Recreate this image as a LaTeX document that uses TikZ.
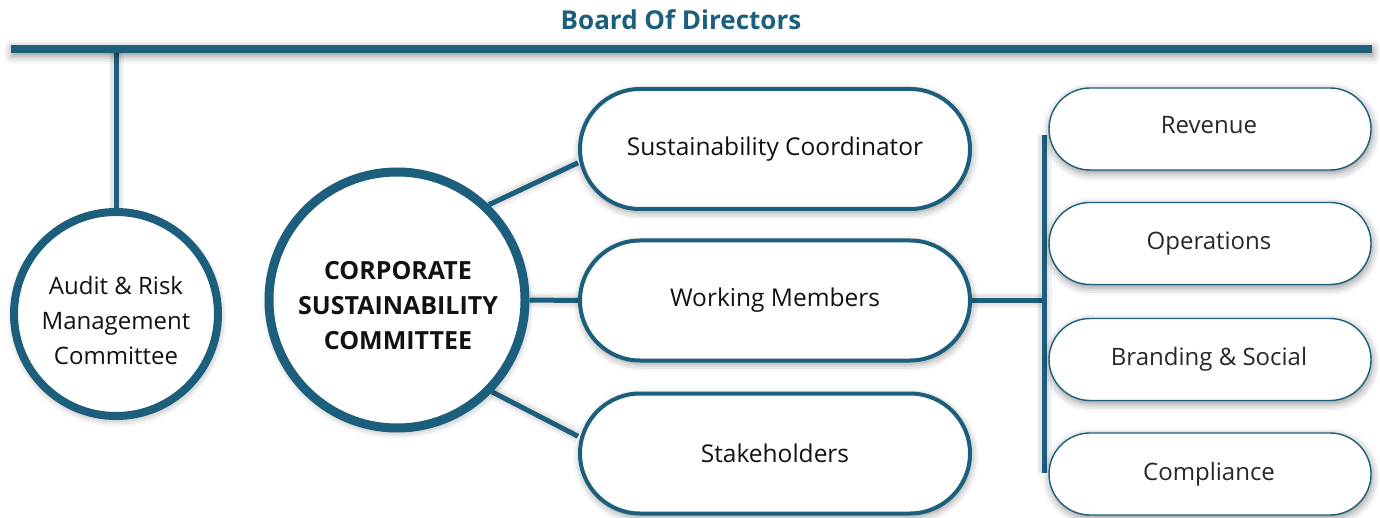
\documentclass[tikz,border=0pt]{standalone}
\usepackage{fontspec}
\setmainfont{Open Sans}
\usetikzlibrary{shadows.blur,backgrounds}
\definecolor{deepteal}{RGB}{28,95,124}
\definecolor{inkblack}{RGB}{18,18,18}
\definecolor{softink}{RGB}{40,40,40}

\begin{document}
\begin{tikzpicture}[x=1pt,y=-1pt,
  softshadow/.style={blur shadow={shadow xshift=1pt,shadow yshift=-3pt,shadow blur radius=8pt,shadow opacity=45}},
  ring/.style={circle,draw=deepteal,fill=white,softshadow,inner sep=0pt},
  ringtext/.style={align=center,inner sep=0pt,text=inkblack},
  pill/.style={rectangle,rounded corners=60pt,draw=deepteal,line width=4pt,fill=white,
    minimum width=390pt,minimum height=120pt,softshadow,text=inkblack,
    font=\fontsize{24.5}{28}\selectfont},
  tag/.style={rectangle,rounded corners=41pt,draw=deepteal,line width=1.4pt,fill=white,
    minimum width=322pt,minimum height=82pt,softshadow,text=softink,
    font=\fontsize{24}{28}\selectfont},
  tagtext/.style={text=softink,font=\fontsize{24}{28}\selectfont,inner sep=0pt,anchor=base},
  link/.style={draw=deepteal,line width=5pt,
    preaction={draw=black,draw opacity=.05,line width=15pt},
    preaction={draw=black,draw opacity=.06,line width=10pt}},
]
\useasboundingbox (0,0) rectangle (1380,518);

% board of directors and its bar
\node[font=\fontsize{26}{30}\selectfont\bfseries,text=deepteal] (bodtitle) at (681,20) {Board Of Directors};
\node[rectangle,fill=deepteal,minimum width=1361pt,minimum height=8pt,inner sep=0pt,softshadow] (bod) at (691.5,49) {};

% committees
\node[ring,line width=8pt,minimum size=204pt] (arm) at (116,314) {};
\node[ringtext,font=\fontsize{24}{35}\selectfont] (armtext) at (116,320)
  {Audit \& Risk\\Management\\Committee};
\node[ring,line width=9pt,minimum size=256pt] (csc) at (397,300) {};
\node[ringtext,font=\fontsize{25}{35}\selectfont\bfseries] (csctext) at (398,306)
  {CORPORATE\\SUSTAINABILITY\\COMMITTEE};

% members of the sustainability committee
\node[pill] (sc) at (775,149) {Sustainability Coordinator};
\node[pill] (wm) at (775,300.5) {Working Members};
\node[pill] (st) at (775,453.5) {Stakeholders};

% working groups (text set on a common baseline offset)
\node[tag] (rev) at (1210,129) {};
\node[tagtext] (revtext) at (1209,133.5) {Revenue};
\node[tag] (ops) at (1210,243.5) {};
\node[tagtext] (opstext) at (1209,249.5) {Operations};
\node[tag] (brs) at (1210,359.5) {};
\node[tagtext] (brstext) at (1209,365.5) {Branding \& Social};
\node[tag] (cmp) at (1210,474) {};
\node[tagtext] (cmptext) at (1209,480.5) {Compliance};

\coordinate (vtop) at (1044,135);
\coordinate (vbot) at (1044,473);

% connectors
\begin{scope}[on background layer]
  \draw[link] (arm.north |- bod.center) -- (arm.north);
  \draw[link] (csc.46) -- (sc.184);
  \draw[link] (csc.east) -- (wm.west);
  \draw[link] (csc.-44) -- (st.175);
  \draw[link] (wm.east) -- (wm.east -| vtop);
  \draw[link] (vtop) -- (vbot);
\end{scope}
\end{tikzpicture}
\end{document}
